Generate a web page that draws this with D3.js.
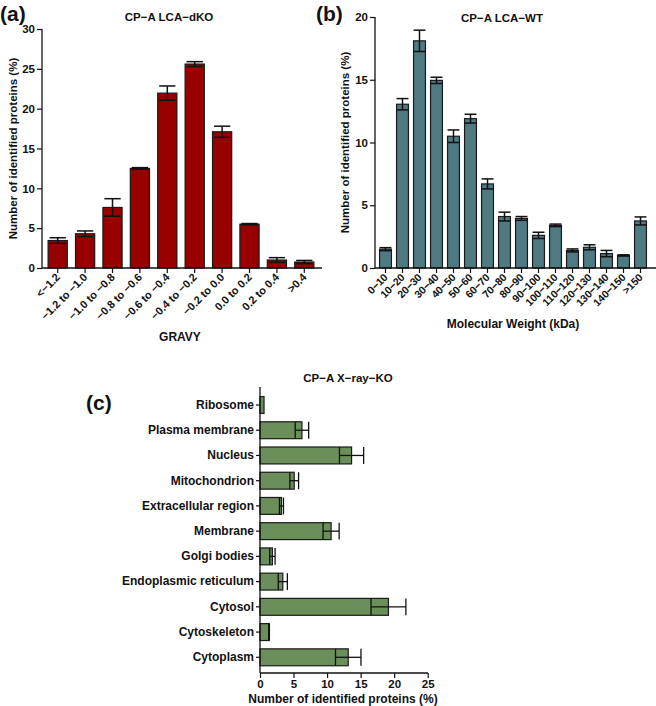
<!DOCTYPE html>
<html>
<head>
<meta charset="utf-8">
<script src="https://cdn.jsdelivr.net/npm/d3@7"></script>
<style>
  body { margin: 0; background: #fff; }
  svg text { font-family: "Liberation Sans", Arial, sans-serif; font-weight: bold; fill: #111; }
</style>
</head>
<body>
<svg id="chart" width="656" height="706"></svg>
<script>
// panel (a) GRAVY distribution
let gravy_cats = ['<−1.2', '−1.2 to −1.0', '−1.0 to −0.8', '−0.8 to −0.6', '−0.6 to −0.4',
    '−0.4 to −0.2', '−0.2 to 0.0', '0.0 to 0.2', '0.2 to 0.4', '>0.4']
let gravy_vals = [3.45, 4.3, 7.6, 12.5, 21.95, 25.6, 17.1, 5.5, 1.0, 0.75]
let gravy_err = [0.35, 0.35, 1.1, 0.1, 0.9, 0.3, 0.7, 0.08, 0.3, 0.2]
let gravy_ticks = [0, 5, 10, 15, 20, 25, 30]

// panel (b) molecular weight distribution
let mw_cats = ['0−10', '10−20', '20−30', '30−40', '40−50', '50−60', '60−70', '70−80', '80−90',
    '90−100', '100−110', '110−120', '120−130', '130−140', '140−150', '>150']
let mw_vals = [1.5, 13.05, 18.1, 14.95, 10.5, 11.9, 6.7, 4.1, 3.95, 2.6, 3.4, 1.4, 1.65, 1.15, 1.0, 3.75]
let mw_err = [0.12, 0.45, 0.85, 0.25, 0.5, 0.35, 0.4, 0.35, 0.15, 0.25, 0.1, 0.12, 0.2, 0.25, 0.05, 0.32]
let mw_ticks = [0, 5, 10, 15, 20]

// panel (c) subcellular location
let loc_cats = ['Ribosome', 'Plasma membrane', 'Nucleus', 'Mitochondrion', 'Extracellular region',
    'Membrane', 'Golgi bodies', 'Endoplasmic reticulum', 'Cytosol', 'Cytoskeleton', 'Cytoplasm']
let loc_vals = [0.6, 6.25, 13.65, 5.1, 3.2, 10.6, 1.85, 3.4, 19.15, 1.35, 13.15]
let loc_err = [0, 1.0, 1.8, 0.65, 0.3, 1.2, 0.4, 0.68, 2.6, 0.05, 1.9]
let loc_ticks = [0, 5, 10, 15, 20, 25]

let color_a = '#980000'
let color_b = '#4f7a82'
let color_c = '#6b8f5b'

let svg = d3.select('#chart')

function panel_label(txt, x, y) {
    svg.append('text').attr('x', x).attr('y', y)
        .style('font-size', '21px').text(txt)
}

function title(txt, x, y) {
    svg.append('text').attr('x', x).attr('y', y)
        .attr('text-anchor', 'middle')
        .style('font-size', '11.5px').text(txt)
}

function vbar_panel(cfg) {
    let x = d3.scaleBand().domain(cfg.cats).range(cfg.xr).paddingInner(0.3).paddingOuter(0.15)
    let y = d3.scaleLinear().domain([0, cfg.ymax]).range(cfg.yr)
    let g = svg.append('g')

    // bars
    g.selectAll('rect.bar').data(cfg.vals).enter()
        .append('rect')
        .attr('x', (d, i) => x(cfg.cats[i]))
        .attr('y', d => y(d))
        .attr('width', x.bandwidth())
        .attr('height', d => y(0) - y(d))
        .style('fill', cfg.color)
        .style('stroke', '#1a1a1a')
        .style('stroke-width', 1.2)

    // error bars
    let cap = x.bandwidth() * cfg.cap
    cfg.vals.forEach((v, i) => {
        let cx = x(cfg.cats[i]) + x.bandwidth() / 2
        let e = cfg.err[i]
        g.append('line').attr('x1', cx).attr('x2', cx).attr('y1', y(v - e)).attr('y2', y(v + e))
            .style('stroke', '#111').style('stroke-width', 1.5)
        ;[v - e, v + e].forEach(t => {
            g.append('line').attr('x1', cx - cap / 2).attr('x2', cx + cap / 2)
                .attr('y1', y(t)).attr('y2', y(t))
                .style('stroke', '#111').style('stroke-width', 1.5)
        })
    })

    // y axis
    let ya = g.append('g').attr('transform', `translate(${cfg.ax},0)`)
        .call(d3.axisLeft(y).tickValues(cfg.ticks).tickSize(5).tickSizeOuter(0))
    ya.select('.domain').remove()
    ya.selectAll('line').style('stroke', '#111').style('stroke-width', 1.2)
    ya.selectAll('text').style('font-size', '11.5px').attr('x', -7)
    g.append('line').attr('x1', cfg.ax).attr('x2', cfg.ax).attr('y1', y(cfg.ymax)).attr('y2', y(0))
        .style('stroke', '#111').style('stroke-width', 1.3)

    // x axis
    let xa = g.append('g').attr('transform', `translate(0,${y(0)})`)
        .call(d3.axisBottom(x).tickSize(5).tickSizeOuter(0))
    xa.select('.domain').remove()
    xa.selectAll('line').style('stroke', '#111').style('stroke-width', 1.2)
    xa.selectAll('text')
        .style('font-size', cfg.xfont)
        .attr('text-anchor', 'end')
        .attr('dy', 0)
        .attr('transform', 'translate(3,10) rotate(-45)')
        .attr('y', 0).attr('x', 0)
    g.append('line').attr('x1', cfg.ax).attr('x2', cfg.xend).attr('y1', y(0)).attr('y2', y(0))
        .style('stroke', '#111').style('stroke-width', 1.3)

    // axis titles
    svg.append('text')
        .attr('transform', `translate(${cfg.ylx},${(cfg.yr[0] + cfg.yr[1]) / 2}) rotate(-90)`)
        .attr('text-anchor', 'middle')
        .style('font-size', '11.5px')
        .text('Number of identified proteins (%)')
    svg.append('text').attr('x', cfg.xlx).attr('y', cfg.xly)
        .attr('text-anchor', 'middle')
        .style('font-size', '12px').text(cfg.xlabel)
}

vbar_panel({
    cats: gravy_cats, vals: gravy_vals, err: gravy_err, ticks: gravy_ticks, ymax: 30,
    xr: [44, 318], yr: [268, 29], ax: 42, xend: 322, color: color_a, cap: 0.85,
    xfont: '11px', ylx: 17, xlx: 180, xly: 341, xlabel: 'GRAVY'
})
vbar_panel({
    cats: mw_cats, vals: mw_vals, err: mw_err, ticks: mw_ticks, ymax: 20,
    xr: [377, 649], yr: [268, 17], ax: 375, xend: 656, color: color_b, cap: 1.0,
    xfont: '10.5px', ylx: 349, xlx: 513, xly: 328, xlabel: 'Molecular Weight (kDa)'
})

panel_label('(a)', 0, 21)
panel_label('(b)', 316, 21)
panel_label('(c)', 86, 410)
title('CP−A LCA−dKO', 169, 21)
title('CP−A LCA−WT', 502, 22)
title('CP−A X−ray−KO', 348, 382)

// panel (c) horizontal bars
let yc = d3.scaleBand().domain(loc_cats).range([391.5, 670.8]).paddingInner(0.33).paddingOuter(0.2)
let xc = d3.scaleLinear().domain([0, 25]).range([260, 427.7])
let gc = svg.append('g')

gc.selectAll('rect.hbar').data(loc_vals).enter()
    .append('rect')
    .attr('x', xc(0))
    .attr('y', (d, i) => yc(loc_cats[i]))
    .attr('width', d => xc(d) - xc(0))
    .attr('height', yc.bandwidth())
    .style('fill', color_c)
    .style('stroke', '#1a1a1a')
    .style('stroke-width', 1.2)

loc_vals.forEach((v, i) => {
    let e = loc_err[i]
    if (e <= 0) return
    let cy = yc(loc_cats[i]) + yc.bandwidth() / 2
    let h = yc.bandwidth()
    gc.append('line').attr('x1', xc(v - e)).attr('x2', xc(v + e)).attr('y1', cy).attr('y2', cy)
        .style('stroke', '#111').style('stroke-width', 1.3)
    ;[v - e, v + e].forEach(t => {
        gc.append('line').attr('x1', xc(t)).attr('x2', xc(t))
            .attr('y1', cy - h / 2).attr('y2', cy + h / 2)
            .style('stroke', '#111').style('stroke-width', 1.3)
    })
})

let yca = gc.append('g').attr('transform', `translate(260,0)`)
    .call(d3.axisLeft(yc).tickSize(4).tickSizeOuter(0))
yca.select('.domain').remove()
yca.selectAll('line').style('stroke', '#111').style('stroke-width', 1.2)
yca.selectAll('text').style('font-size', '12px').attr('x', -6)
gc.append('line').attr('x1', 260).attr('x2', 260).attr('y1', 387).attr('y2', 673)
    .style('stroke', '#111').style('stroke-width', 1.3)

let xca = gc.append('g').attr('transform', `translate(0,673)`)
    .call(d3.axisBottom(xc).tickValues(loc_ticks).tickSize(5).tickSizeOuter(0))
xca.select('.domain').remove()
xca.selectAll('line').style('stroke', '#111').style('stroke-width', 1.2)
xca.selectAll('text').style('font-size', '11.5px').attr('y', 7)
gc.append('line').attr('x1', 260).attr('x2', 428).attr('y1', 673).attr('y2', 673)
    .style('stroke', '#111').style('stroke-width', 1.3)

svg.append('text').attr('x', 343).attr('y', 703)
    .attr('text-anchor', 'middle')
    .style('font-size', '12px').text('Number of identified proteins (%)')
</script>
</body>
</html>
